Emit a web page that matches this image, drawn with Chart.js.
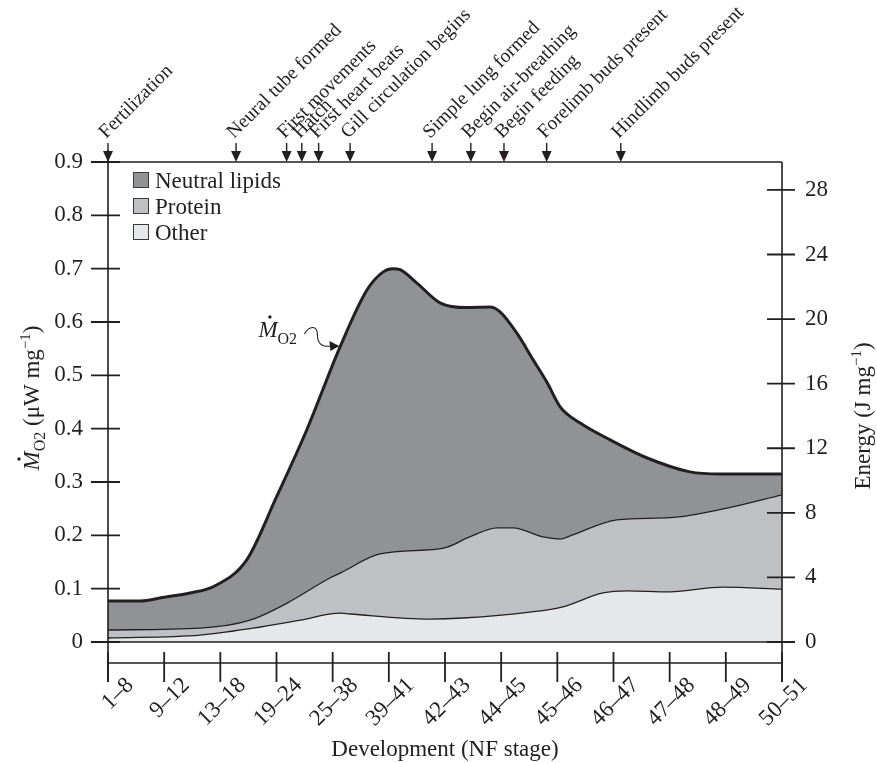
<!DOCTYPE html>
<html><head><meta charset="utf-8">
<script src="https://cdn.jsdelivr.net/npm/chart.js@4.4.1/dist/chart.umd.min.js"></script>
<style>html,body{margin:0;padding:0;background:#fff;}#wrap{width:877px;height:763px;position:relative;}</style>
</head><body><div id="wrap"><canvas id="c" width="877" height="763"></canvas></div>
<script>
// ---------- data ----------
const categories = ['1–8','9–12','13–18','19–24','25–38','39–41','42–43','44–45','45–46','46–47','47–48','48–49','50–51'];
const leftTicks = [0,0.1,0.2,0.3,0.4,0.5,0.6,0.7,0.8,0.9];
const rightTicks = [0,4,8,12,16,20,24,28];
const seriesNames = ['Neutral lipids','Protein','Other'];
// total M_O2 (top of stack), x = position on stage axis (category index)
const totalX = [0,0.57,1.0,1.46,1.9,2.47,3.0,3.54,4.13,4.61,4.9,5.07,5.2,5.5,5.91,6.39,6.8,6.98,7.28,7.57,7.82,8.05,8.4,8.94,9.6,10.36,10.9,12];
const totalY = [0.077,0.077,0.084,0.092,0.105,0.154,0.272,0.398,0.553,0.660,0.694,0.700,0.698,0.673,0.636,0.627,0.628,0.619,0.579,0.529,0.486,0.441,0.411,0.379,0.345,0.319,0.315,0.315];
const proteinX = [0,1.64,2.53,3.19,3.95,4.13,4.84,5.86,6.04,6.44,6.93,7.21,7.74,8.05,8.23,9.06,10.0,11.02,12];
const proteinY = [0.0225,0.026,0.041,0.073,0.12,0.129,0.165,0.174,0.178,0.197,0.214,0.214,0.197,0.193,0.199,0.229,0.233,0.251,0.276];
const otherX = [0,1.64,2.58,3.42,4.13,4.31,5.73,6.32,7.51,8.1,8.81,9.24,10.0,10.95,12];
const otherY = [0.0075,0.013,0.026,0.041,0.054,0.0525,0.043,0.045,0.056,0.066,0.092,0.096,0.094,0.103,0.099];
const eventLabels = ['Fertilization','Neural tube formed','First movements','Hatch','First heart beats','Gill circulation begins','Simple lung formed','Begin air-breathing','Begin feeding','Forelimb buds present','Hindlimb buds present'];
const eventStages = [0,2.28,3.18,3.45,3.75,4.31,5.77,6.46,7.05,7.81,9.13];

// ---------- styles ----------
const INK = '#231f20';
const COLORS = ['#919296','#bfc0c3','#e6e7e8'];
const SERIF = '"Liberation Serif","DejaVu Serif",serif';
const Y_MIN = -0.0394, Y_MAX = 0.9;
const E_PER_UNIT = 29.73/0.9;

const pts = (xs, ys) => xs.map((x,i)=>({x, y: ys[i]}));

function richWidth(ctx, parts){let w=0;parts.forEach(p=>{ctx.font=p.font;w+=ctx.measureText(p.t).width;});return w;}
function drawRich(ctx, parts, x, y, rot, center){
  ctx.save(); ctx.translate(x,y); ctx.rotate(rot);
  ctx.textAlign='left'; ctx.textBaseline='alphabetic'; ctx.fillStyle=INK;
  let cx = center ? -richWidth(ctx,parts)/2 : 0;
  parts.forEach(p=>{
    ctx.font=p.font; const w=ctx.measureText(p.t).width;
    ctx.fillText(p.t, cx, p.dy||0);
    if(p.dot){ctx.beginPath();ctx.arc(cx+w*0.6, p.dot, 1.7, 0, 2*Math.PI);ctx.fill();}
    cx += w;
  });
  ctx.restore();
}

const decor = {
  id:'decor',
  afterDraw(chart){
    const ctx = chart.ctx, xs = chart.scales.x, ys = chart.scales.y, y2 = chart.scales.y2;
    const L = chart.chartArea.left, R = chart.chartArea.right, T = chart.chartArea.top, B = chart.chartArea.bottom;
    const y0 = ys.getPixelForValue(0);
    ctx.save();
    ctx.strokeStyle = INK; ctx.fillStyle = INK; ctx.lineCap='butt';
    ctx.lineWidth = 1.6;
    ctx.beginPath();
    ctx.moveTo(L,150); ctx.lineTo(L,B+19);
    ctx.moveTo(R,T); ctx.lineTo(R,B+19);
    ctx.moveTo(L,T); ctx.lineTo(R,T);
    ctx.moveTo(L,B); ctx.lineTo(R,B);
    ctx.moveTo(L-17,y0); ctx.lineTo(R+13,y0);
    ctx.stroke();
    ctx.lineWidth = 1.8;
    ctx.beginPath();
    leftTicks.forEach(v=>{const p=ys.getPixelForValue(v);ctx.moveTo(L-17,p);ctx.lineTo(L+12,p);});
    rightTicks.forEach(v=>{const p=y2.getPixelForValue(v);ctx.moveTo(R-15,p);ctx.lineTo(R+13,p);});
    categories.forEach((c,i)=>{const p=xs.getPixelForValue(i);ctx.moveTo(p,B-11);ctx.lineTo(p,B+19);});
    ctx.stroke();
    // events
    ctx.lineWidth = 1.4;
    eventStages.forEach((s,i)=>{
      const ax = xs.getPixelForValue(s);
      ctx.beginPath(); ctx.moveTo(ax,T-19); ctx.lineTo(ax,T-8); ctx.stroke();
      ctx.beginPath(); ctx.moveTo(ax-5,T-11); ctx.lineTo(ax+5,T-11); ctx.lineTo(ax,T); ctx.closePath(); ctx.fill();
      ctx.save(); ctx.translate(ax-2, T-23); ctx.rotate(-Math.PI/4);
      ctx.font = '19.5px '+SERIF; ctx.textAlign='left'; ctx.textBaseline='alphabetic';
      ctx.fillText(eventLabels[i],0,0); ctx.restore();
    });
    // legend
    seriesNames.forEach((n,i)=>{
      const yy = 172 + i*26;
      ctx.fillStyle = COLORS[i]; ctx.fillRect(133,yy,16,16);
      ctx.lineWidth=1; ctx.strokeStyle='#3a3a3a'; ctx.strokeRect(133.5,yy+0.5,15,15);
      ctx.fillStyle = INK; ctx.font='23px '+SERIF; ctx.textAlign='left'; ctx.textBaseline='alphabetic';
      ctx.fillText(n,155,yy+16);
    });
    // M_O2 in-plot label with squiggle arrow
    const tipX = xs.getPixelForValue(4.12), tipY = ys.getPixelForValue(0.553);
    const lx = tipX-81, ly = tipY-10;
    drawRich(ctx,[{t:'M',font:'italic 23px '+SERIF,dot:-20},{t:'O',font:'16px '+SERIF,dy:7},{t:'2',font:'16px '+SERIF,dy:7}],lx,ly,0,false);
    ctx.strokeStyle=INK; ctx.lineWidth=1.1;
    ctx.beginPath();
    ctx.moveTo(tipX-35,tipY-13);
    ctx.bezierCurveTo(tipX-30,tipY-22,tipX-22,tipY-22,tipX-22,tipY-12);
    ctx.bezierCurveTo(tipX-22,tipY-2,tipX-16,tipY,tipX-8,tipY-1);
    ctx.stroke();
    ctx.beginPath(); ctx.moveTo(tipX,tipY-1); ctx.lineTo(tipX-10,tipY-6); ctx.lineTo(tipX-9,tipY+4); ctx.closePath(); ctx.fillStyle=INK; ctx.fill();
    // axis titles
    drawRich(ctx,[{t:'M',font:'italic 23px '+SERIF,dot:-20},{t:'O',font:'16px '+SERIF,dy:6},{t:'2',font:'16px '+SERIF,dy:6},{t:' (μW mg',font:'23px '+SERIF},{t:'−1',font:'15px '+SERIF,dy:-9},{t:')',font:'23px '+SERIF}],39,398,-Math.PI/2,true);
    drawRich(ctx,[{t:'Energy (J mg',font:'23px '+SERIF},{t:'−1',font:'15px '+SERIF,dy:-9},{t:')',font:'23px '+SERIF}],870,416,-Math.PI/2,true);
    drawRich(ctx,[{t:'Development (NF stage)',font:'23px '+SERIF}],(L+R)/2,756,0,true);
    ctx.restore();
  }
};

const tickFont = {family:SERIF, size:23};
new Chart(document.getElementById('c'), {
  type:'line',
  data:{datasets:[
    {label:seriesNames[2], data:pts(otherX,otherY), backgroundColor:COLORS[2], borderColor:INK, borderWidth:1.3, fill:'origin', pointRadius:0, cubicInterpolationMode:'monotone'},
    {label:seriesNames[1], data:pts(proteinX,proteinY), backgroundColor:COLORS[1], borderColor:INK, borderWidth:1.3, fill:'origin', pointRadius:0, cubicInterpolationMode:'monotone'},
    {label:seriesNames[0], data:pts(totalX,totalY), backgroundColor:COLORS[0], borderColor:INK, borderWidth:3, fill:'origin', pointRadius:0, cubicInterpolationMode:'monotone'}
  ]},
  options:{
    responsive:false, animation:false, devicePixelRatio:1,
    layout:{padding:{top:162,left:0,right:0,bottom:0}},
    plugins:{legend:{display:false}, tooltip:{enabled:false}},
    scales:{
      x:{type:'linear', min:0, max:12,
        afterBuildTicks:s=>{s.ticks=categories.map((c,i)=>({value:i}));},
        afterFit:s=>{s.height=100;},
        grid:{display:false}, border:{display:false},
        ticks:{autoSkip:false, minRotation:45, maxRotation:45, padding:1, labelOffset:22, color:INK, font:tickFont,
          callback:v=>categories[Math.round(v)]}},
      y:{type:'linear', position:'left', min:Y_MIN, max:Y_MAX,
        afterBuildTicks:s=>{s.ticks=leftTicks.map(v=>({value:v}));},
        afterFit:s=>{s.width=108;},
        grid:{display:false}, border:{display:false},
        ticks:{padding:17, color:INK, font:tickFont, callback:v=>v===0?'0':v.toFixed(1)}},
      y2:{type:'linear', position:'right', min:Y_MIN*E_PER_UNIT, max:Y_MAX*E_PER_UNIT,
        afterBuildTicks:s=>{s.ticks=rightTicks.map(v=>({value:v}));},
        afterFit:s=>{s.width=95;},
        grid:{display:false}, border:{display:false},
        ticks:{padding:15, color:INK, font:tickFont, callback:v=>String(v)}}
    }
  },
  plugins:[decor]
});
</script></body></html>
